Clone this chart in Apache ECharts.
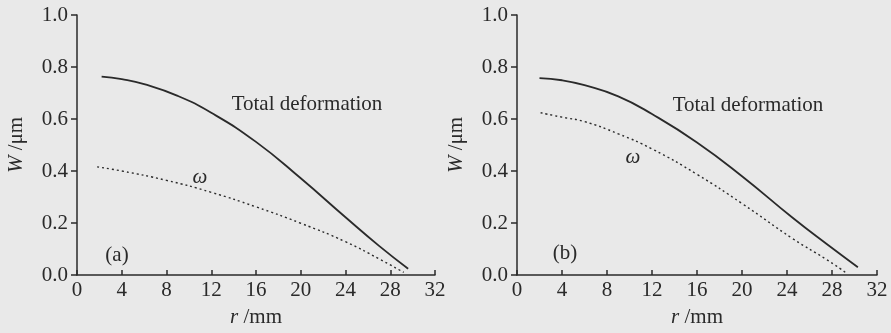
<!DOCTYPE html>
<html lang="en" style="height: 100%">
<head>
  <meta charset="utf-8">
  <title>W vs r</title>
</head>
<body style="height: 100%; margin: 0">
  <div id="container" style="width: 891px; height: 333px"></div>
  <script type="text/javascript" src="https://cdn.jsdelivr.net/npm/echarts@6/dist/echarts.min.js"></script>
  <script type="text/javascript">
    // panel (a)
    const totalA = [[2.2, 0.763], [4, 0.753], [6, 0.734], [9, 0.689], [12, 0.624], [16, 0.512], [20, 0.372], [24, 0.222], [27, 0.112], [29.6, 0.024]];
    const omegaA = [[1.8, 0.416], [4, 0.4], [8, 0.364], [12, 0.318], [16, 0.262], [20, 0.199], [24, 0.128], [27, 0.062], [29.2, 0.01]];
    // panel (b)
    const totalB = [[2.0, 0.757], [4, 0.749], [6, 0.73], [9, 0.687], [12, 0.619], [16, 0.51], [20, 0.38], [24.5, 0.22], [27.5, 0.12], [30.3, 0.03]];
    const omegaB = [[2.1, 0.624], [4, 0.607], [6, 0.59], [9, 0.543], [12, 0.485], [16, 0.387], [20, 0.275], [24.5, 0.14], [27.5, 0.06], [29.2, 0.01]];

    var dom = document.getElementById('container');
    var myChart = echarts.init(dom, null, { renderer: 'canvas' });

    const ink = '#2a2a2a';
    const font = 'Liberation Serif';
    const fs = 21;

    function xAx(idx) {
      return {
        type: 'value', gridIndex: idx, min: 0, max: 32, interval: 4,
        name: '{i|r} /mm', nameLocation: 'middle', nameGap: 32,
        nameTextStyle: { color: ink, fontFamily: font, fontSize: fs,
          rich: { i: { fontStyle: 'italic', fontFamily: font, fontSize: fs, color: ink } } },
        axisLine: { lineStyle: { color: ink, width: 1.5 } },
        axisTick: { inside: true, length: 5, lineStyle: { color: ink, width: 1.5 } },
        axisLabel: { color: ink, fontFamily: font, fontSize: fs, margin: 5 },
        splitLine: { show: false }
      };
    }
    function yAx(idx) {
      return {
        type: 'value', gridIndex: idx, min: 0, max: 1, interval: 0.2,
        name: '{i|W} /μm', nameLocation: 'middle', nameGap: 50,
        nameTextStyle: { color: ink, fontFamily: font, fontSize: fs,
          rich: { i: { fontStyle: 'italic', fontFamily: font, fontSize: fs, color: ink } } },
        axisLine: { show: true, lineStyle: { color: ink, width: 1.5 } },
        axisTick: { show: true, length: 6, lineStyle: { color: ink, width: 1.5 } },
        axisLabel: { color: ink, fontFamily: font, fontSize: fs, margin: 9,
          formatter: function (v) { return v.toFixed(1); } },
        splitLine: { show: false }
      };
    }
    function line(data, idx, dotted) {
      return {
        type: 'line', xAxisIndex: idx, yAxisIndex: idx, data: data,
        smooth: 0.5, showSymbol: false, silent: true,
        lineStyle: dotted ? { color: ink, width: 1.4, type: [2, 3] } : { color: ink, width: 1.8 }
      };
    }
    function label(text, x, y, italic) {
      return {
        type: 'text', x: x, y: y,
        style: { text: text, fill: ink, fontFamily: font, fontSize: fs,
          fontStyle: italic ? 'italic' : 'normal', align: 'center', verticalAlign: 'middle' }
      };
    }

    var option = {
      backgroundColor: '#e9e9e9',
      animation: false,
      grid: [
        { left: 77, right: 456, top: 15, bottom: 55 },
        { left: 517, right: 14, top: 15, bottom: 55 }
      ],
      xAxis: [xAx(0), xAx(1)],
      yAxis: [yAx(0), yAx(1)],
      series: [line(totalA, 0, false), line(omegaA, 0, true), line(totalB, 1, false), line(omegaB, 1, true)],
      graphic: [
        label('Total deformation', 307, 104),
        label('ω', 200, 177, true),
        label('(a)', 117, 255),
        label('Total deformation', 748, 105),
        label('ω', 633, 157, true),
        label('(b)', 565, 253)
      ]
    };

    myChart.setOption(option);
    window.addEventListener('resize', myChart.resize);
  </script>
</body>
</html>
